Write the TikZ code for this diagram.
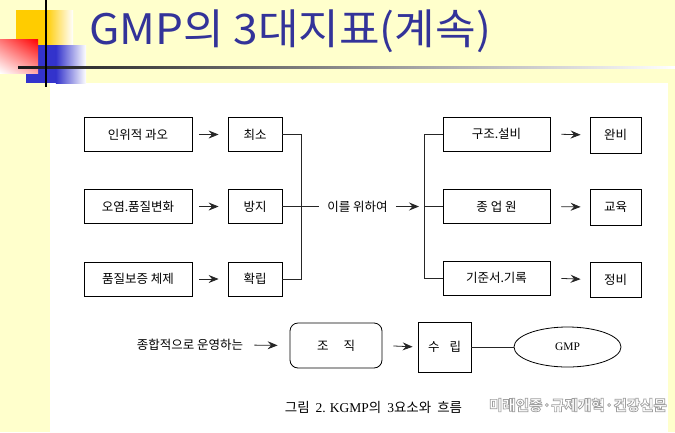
\documentclass[tikz,border=0pt]{standalone}
\usepackage{fontspec}
\setmainfont{Noto Sans CJK KR}
\newfontfamily\serifnum{Liberation Serif}
\usetikzlibrary{arrows.meta,shapes.geometric,shadings}
\definecolor{bgyellow}{HTML}{FFFFCC}
\definecolor{titleblue}{HTML}{333399}
\definecolor{sqyellow}{HTML}{FFCC00}
\definecolor{sqblue}{HTML}{3333CC}
\definecolor{sqred}{HTML}{FF0000}
\newcommand{\glowtext}[1]{\special{pdf:literal direct q 2 Tr 0.62 G 0.7 w}#1\special{pdf:literal direct Q}}
\begin{document}
\begin{tikzpicture}[x=1pt,y=-1pt,
  lbl/.style={font=\fontsize{12.5}{14}\selectfont},
  box/.style={lbl, draw=black, line width=0.8pt, minimum height=34pt, inner sep=0pt},
  widebox/.style={box, minimum width=108pt},
  smallbox/.style={box, minimum width=54pt},
  link/.style={draw=black!85, line width=0.8pt},
  arr/.style={link, -{Stealth[length=10pt,width=8pt,inset=3.5pt]}},
]
\useasboundingbox (0,0) rectangle (675,432);
% background
\fill[bgyellow] (0,0) rectangle (675,432);
\fill[white] (50,83) rectangle (668,432);
% decoration squares
\fill[sqyellow] (16,10) rectangle (46,45);
\shade[left color=sqyellow, right color=white] (45.8,10) rectangle (73,45);
\fill[sqblue] (26,45) rectangle (56,83);
\shade[left color=sqblue, right color=white] (55.8,45) rectangle (86,83);
\shade[upper left=sqred!55!white, upper right=sqred, lower left=white, lower right=sqred!35!white] (0,39) rectangle (38,73);
\shade[left color=black!90, right color=white] (18,66) rectangle (675,68.5);
\draw[line width=1.3pt] (46,0) -- (46,87);
% title
\node[anchor=base west, text=titleblue, font=\fontsize{42}{44}\selectfont, inner sep=0pt] (title) at (89,44) {\scalebox{1.05}[1]{GMP의 3대지표(계속)}};

% left column
\node[widebox] (l1) at (138,134.5) {인위적 과오};
\node[widebox] (l2) at (138,206.5) {오염.품질변화};
\node[widebox] (l3) at (138,279) {품질보증 체제};
\node[smallbox] (m1) at (255,134.5) {최소};
\node[smallbox] (m2) at (255,206.5) {방지};
\node[smallbox] (m3) at (255,279) {확립};
\foreach \i in {1,2,3} {
  \draw[arr, shorten <=7pt, shorten >=9pt] (l\i.east) -- (m\i.west);
}
% middle
\node[lbl, inner sep=0pt] (mid) at (357.5,206.5) {이를 위하여};
\coordinate (lbx) at (301,0);
\coordinate (rbx) at (424,0);
\draw[link] (m1.east) -| (lbx |- m3.east) -- (m3.east);
\draw[link, shorten >=8pt] (m2.east) -- (mid.west);

% right column
\node[box, minimum width=107pt] (r1) at (496.5,134) {구조.설비};
\node[box, minimum width=107pt] (r2) at (496.5,206.5) {종 업 원};
\node[box, minimum width=107pt] (r3) at (496.5,278) {기준서.기록};
\node[box, minimum width=51pt, minimum height=36pt] (e1) at (615.5,135) {완비};
\node[box, minimum width=51pt, minimum height=36pt] (e2) at (615.5,207) {교육};
\node[box, minimum width=51pt, minimum height=35pt] (e3) at (615.5,279.5) {정비};
\draw[arr, shorten <=8pt, shorten >=5pt] (mid.east) -- (rbx |- r2.west);
\draw[link] (r1.west) -| (rbx |- r3.west) -- (r3.west);
\draw[link] (rbx |- r2.west) -- (r2.west);
\foreach \i in {1,2,3} {
  \draw[arr, shorten <=11pt, shorten >=9pt] (r\i.east) -- (e\i.west);
}

% bottom row
\node[lbl, inner sep=0pt] (op) at (190,345) {종합적으로 운영하는};
\node[box, rounded corners=8pt, minimum width=92pt, minimum height=45pt] (org) at (336,345.5) {조\hspace{15pt}직};
\node[box, minimum width=53pt, minimum height=50pt] (sr) at (444.5,347) {수\hspace{10pt}립};
\node[draw=black, line width=0.8pt, ellipse, minimum width=107pt, minimum height=40pt, inner sep=0pt,
      font=\serifnum\fontsize{11.5}{13}\selectfont] (gmp) at (567.5,347) {GMP};
\draw[arr, shorten <=11pt, shorten >=12pt] (op.east) -- (org.west);
\draw[arr, shorten <=11pt, shorten >=5pt] (org.east) -- (sr.west);
\draw[link] (sr.east) -- (gmp.west);

% caption
\node[font=\fontsize{13.5}{15}\selectfont, inner sep=0pt] (cap) at (373.5,407)
  {그림\hspace{6pt}{\serifnum 2.\hspace{4pt}KGMP}의\hspace{6pt}{\serifnum 3}요소와\hspace{6pt}흐름};

% watermark
\node[font=\bfseries\fontsize{14.5}{16}\selectfont, text=white, inner sep=0pt] (wm) at (578,405) {\glowtext{미래인증·규제개혁·건강신문}};
\end{tikzpicture}
\end{document}
